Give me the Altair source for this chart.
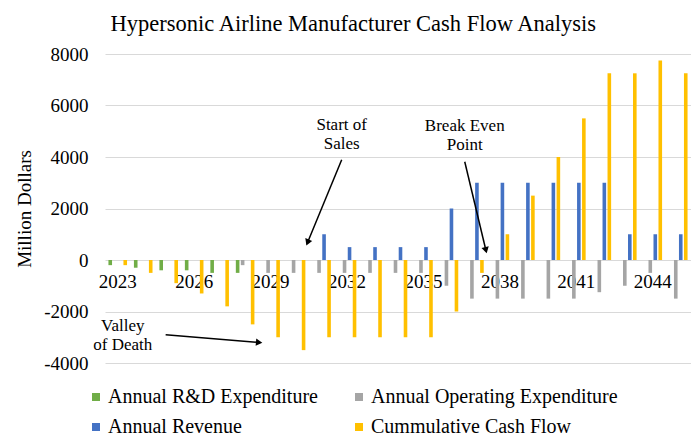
import altair as alt
import pandas as pd

years = list(range(2023, 2046))
tick_years = [2023, 2026, 2029, 2032, 2035, 2038, 2041, 2044]
series = ["Annual R&D Expenditure", "Annual Operating Expenditure",
          "Annual Revenue", "Cummulative Cash Flow"]
colors = ["#70AD47", "#A5A5A5", "#4472C4", "#FFC000"]

rd = [-200, -300, -400, -400, -500, -500, 0, 0, 0, 0, 0, 0, 0, 0, 0, 0, 0, 0, 0, 0, 0, 0, 0]
op = [0, 0, 0, 0, 0, -200, -500, -500, -500, -500, -500, -500, -500, -1000, -1500,
      -1500, -1500, -1500, -1500, -1250, -1000, -500, -1500]
rev = [0, 0, 0, 0, 0, 0, 0, 0, 1000, 500, 500, 500, 500, 2000, 3000, 3000, 3000, 3000,
       3000, 3000, 1000, 1000, 1000]
cum = [-200, -500, -900, -1300, -1800, -2500, -3000, -3500, -3000, -3000, -3000, -3000,
       -3000, -2000, -500, 1000, 2500, 4000, 5500, 7250, 7250, 7750, 7250]

y_ticks = [-4000, -2000, 0, 2000, 4000, 6000, 8000]

# annotations (data coordinates)
ann_text = ["Start of\nSales", "Break Even\nPoint", "Valley\nof Death"]
ann_x = [2031.79, 2036.62, 2023.2]
ann_y = [5230, 5210, -2560]
arr_x = [2031.79, 2036.62, 2024.88]
arr_y = [3895, 3817, -2900]
arr_x2 = [2030.45, 2037.45, 2028.55]
arr_y2 = [680, 380, -3200]
arr_angle = [202, 166, 95]

rows = []
for vals, s in zip([rd, op, rev, cum], series):
    for yr, v in zip(years, vals):
        if v != 0:
            rows.append({"year": yr, "series": s, "value": v})
df = pd.DataFrame(rows)

ann_df = pd.DataFrame({"text": ann_text, "x": ann_x, "y": ann_y})
arr_df = pd.DataFrame({"x": arr_x, "y": arr_y, "x2": arr_x2, "y2": arr_y2, "angle": arr_angle})

W, H = 586, 309
ymin, ymax = -4000, 8000
FONT = "Liberation Serif"
pin = 0.27

yscale = alt.Scale(domain=[ymin, ymax], nice=False)

bars = alt.Chart(df).mark_bar().encode(
    x=alt.X("year:O", scale=alt.Scale(domain=years, paddingInner=pin, paddingOuter=pin / 2),
            axis=alt.Axis(values=tick_years, labelAngle=0, domain=False, ticks=False, grid=False,
                          offset=-H * (0 - ymin) / (ymax - ymin), labelFont=FONT,
                          labelFontSize=19, labelColor="black", labelPadding=12, title=None)),
    xOffset=alt.XOffset("series:N", scale=alt.Scale(domain=series, paddingInner=0.28, paddingOuter=0)),
    y=alt.Y("value:Q", scale=yscale,
            axis=alt.Axis(values=y_ticks, labelExpr="datum.value + ''", domain=False, ticks=False,
                          gridColor="#D9D9D9", gridWidth=1, labelFont=FONT, labelFontSize=19,
                          labelColor="black", labelPadding=17, title="Million Dollars",
                          titleFont=FONT, titleFontSize=19, titleFontWeight="normal",
                          titleColor="black", titlePadding=9)),
    color=alt.Color("series:N", scale=alt.Scale(domain=series, range=colors),
                    legend=alt.Legend(orient="none", legendX=-19, legendY=333, columns=2,
                                      values=[series[0], series[2], series[1], series[3]],
                                      symbolType="square", symbolSize=64, symbolStrokeWidth=0,
                                      labelFont=FONT, labelFontSize=20, labelColor="black",
                                      labelLimit=500, labelOffset=2, columnPadding=31,
                                      rowPadding=10, padding=0, title=None)),
)

xq = alt.Scale(domain=[2022.5, 2045.5], nice=False, zero=False)

texts = alt.Chart(ann_df).mark_text(font=FONT, fontSize=17, lineBreak="\n", lineHeight=19,
                                    align="center", baseline="middle", color="black").encode(
    x=alt.X("x:Q", scale=xq, axis=None),
    y=alt.Y("y:Q", scale=yscale),
    text="text:N",
)

rules = alt.Chart(arr_df).mark_rule(color="black", strokeWidth=1.5).encode(
    x=alt.X("x:Q", scale=xq, axis=None),
    x2="x2:Q",
    y=alt.Y("y:Q", scale=yscale),
    y2="y2:Q",
)

heads = alt.Chart(arr_df).mark_point(shape="triangle-up", filled=True, color="black",
                                     size=55, opacity=1).encode(
    x=alt.X("x2:Q", scale=xq, axis=None),
    y=alt.Y("y2:Q", scale=yscale),
    angle=alt.Angle("angle:Q", scale=None),
)

chart = alt.layer(bars, texts, rules, heads).resolve_scale(x="independent").properties(
    width=W, height=H,
    title=alt.Title("Hypersonic Airline Manufacturer Cash Flow Analysis", font=FONT, fontSize=22.5,
                    fontWeight="normal", color="black", anchor="middle", frame="bounds",
                    baseline="alphabetic", offset=-8),
    autosize=alt.AutoSizeParams(type="none"),
    padding={"left": 97, "top": 46, "right": 0, "bottom": 80},
).configure_view(stroke=None)

chart.save("out.html", embed_options={"renderer": "svg", "actions": False})
